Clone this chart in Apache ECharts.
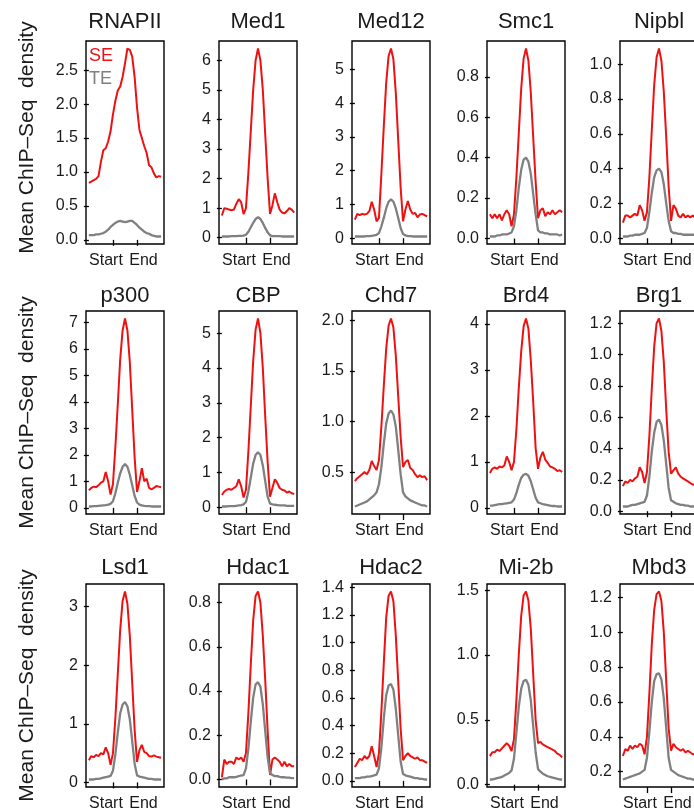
<!DOCTYPE html>
<html><head><meta charset="utf-8">
<script src="https://cdn.jsdelivr.net/npm/echarts@6/dist/echarts.min.js"></script>
<style>html,body{margin:0;padding:0;background:#fff;}#c{width:694px;height:811px;}</style>
</head><body><div id="c"></div>
<script>
// ---- data (31 bins: upstream flank, enhancer body Start..End, downstream flank) ----
const RNAPII_SE = [0.84,0.86,0.88,0.9,0.94,1.15,1.32,1.35,1.45,1.6,1.85,2.05,2.2,2.26,2.4,2.6,2.82,2.8,2.7,2.4,1.95,1.62,1.5,1.38,1.28,1.1,1.07,0.98,0.92,0.94,0.93];
const RNAPII_TE = [0.07,0.07,0.07,0.08,0.08,0.09,0.1,0.12,0.15,0.19,0.22,0.25,0.27,0.28,0.27,0.26,0.27,0.28,0.28,0.25,0.22,0.18,0.15,0.12,0.1,0.09,0.07,0.06,0.05,0.05,0.05];
const RNAPII_TICKS = [0,0.5,1,1.5,2,2.5];

const Med1_SE = [0.75,1.0,0.98,0.95,0.93,0.95,1.15,1.3,1.2,0.8,1.0,2.2,3.6,5.0,6.0,6.4,6.0,5.0,3.5,2.0,0.8,1.1,1.5,1.2,0.95,0.85,0.82,0.9,1.0,0.95,0.85];
const Med1_TE = [0.04,0.04,0.04,0.04,0.05,0.05,0.05,0.06,0.06,0.07,0.1,0.2,0.35,0.5,0.63,0.69,0.63,0.5,0.33,0.18,0.08,0.05,0.05,0.05,0.05,0.04,0.04,0.04,0.04,0.04,0.04];
const Med1_TICKS = [0,1,2,3,4,5,6];

const Med12_SE = [0.55,0.72,0.68,0.72,0.7,0.72,0.8,1.08,0.85,0.5,0.6,1.9,3.3,4.6,5.4,5.62,5.3,4.3,2.9,1.5,0.5,0.85,1.1,0.85,0.72,0.75,0.62,0.7,0.72,0.68,0.65];
const Med12_TE = [0.05,0.05,0.05,0.05,0.05,0.06,0.06,0.07,0.08,0.1,0.15,0.35,0.6,0.88,1.08,1.15,1.08,0.88,0.6,0.3,0.12,0.08,0.06,0.06,0.05,0.05,0.05,0.05,0.05,0.05,0.05];
const Med12_TICKS = [0,1,2,3,4,5];

const Smc1_SE = [0.12,0.1,0.12,0.1,0.12,0.09,0.12,0.14,0.12,0.06,0.12,0.3,0.52,0.74,0.89,0.94,0.88,0.72,0.5,0.28,0.1,0.14,0.15,0.11,0.13,0.12,0.14,0.12,0.13,0.14,0.13];
const Smc1_TE = [0.01,0.01,0.01,0.015,0.015,0.02,0.02,0.02,0.025,0.03,0.06,0.14,0.25,0.34,0.39,0.4,0.38,0.32,0.22,0.12,0.04,0.03,0.03,0.025,0.025,0.02,0.02,0.02,0.02,0.015,0.02];
const Smc1_TICKS = [0,0.2,0.4,0.6,0.8];

const Nipbl_SE = [0.09,0.13,0.13,0.12,0.13,0.14,0.13,0.19,0.16,0.1,0.15,0.35,0.62,0.88,1.04,1.09,1.02,0.84,0.58,0.3,0.1,0.19,0.17,0.13,0.12,0.14,0.12,0.13,0.12,0.13,0.12];
const Nipbl_TE = [0.01,0.01,0.01,0.015,0.015,0.02,0.02,0.02,0.025,0.03,0.06,0.15,0.26,0.35,0.39,0.4,0.38,0.31,0.2,0.1,0.04,0.03,0.03,0.025,0.025,0.02,0.02,0.02,0.02,0.02,0.02];
const Nipbl_TICKS = [0,0.2,0.4,0.6,0.8,1.0];

const p300_SE = [0.66,0.75,0.8,0.78,0.85,0.95,1.0,1.35,1.0,0.5,0.9,2.3,3.9,5.6,6.7,7.15,6.7,5.5,3.7,1.9,0.6,1.0,1.5,1.0,1.1,0.75,0.7,0.75,0.82,0.8,0.78];
const p300_TE = [0.05,0.05,0.06,0.06,0.07,0.08,0.09,0.1,0.12,0.15,0.25,0.55,0.95,1.3,1.55,1.65,1.55,1.25,0.85,0.45,0.2,0.12,0.09,0.07,0.06,0.06,0.05,0.05,0.05,0.05,0.05];
const p300_TICKS = [0,1,2,3,4,5,6,7];

const CBP_SE = [0.35,0.45,0.5,0.52,0.5,0.55,0.6,0.8,0.6,0.28,0.5,1.6,2.9,4.2,5.1,5.42,5.0,4.0,2.6,1.3,0.3,0.55,0.8,0.7,0.55,0.5,0.48,0.42,0.45,0.4,0.38];
const CBP_TE = [0.02,0.02,0.02,0.03,0.03,0.03,0.04,0.05,0.06,0.08,0.15,0.45,0.85,1.25,1.5,1.58,1.5,1.2,0.75,0.3,0.1,0.08,0.07,0.06,0.05,0.05,0.05,0.04,0.04,0.04,0.04];
const CBP_TICKS = [0,1,2,3,4,5];

const Chd7_SE = [0.41,0.44,0.46,0.48,0.5,0.48,0.52,0.61,0.56,0.52,0.62,0.95,1.35,1.72,1.95,2.02,1.93,1.65,1.25,0.85,0.55,0.6,0.62,0.54,0.52,0.48,0.45,0.47,0.45,0.46,0.42];
const Chd7_TE = [0.16,0.17,0.18,0.19,0.2,0.21,0.23,0.25,0.27,0.3,0.38,0.55,0.78,0.98,1.08,1.11,1.07,0.95,0.72,0.48,0.3,0.26,0.24,0.22,0.21,0.2,0.19,0.18,0.17,0.17,0.16];
const Chd7_TICKS = [0.5,1.0,1.5,2.0];

const Brd4_SE = [0.76,0.85,0.88,0.85,0.9,0.88,0.92,1.12,1.0,0.82,1.0,1.7,2.6,3.4,3.95,4.12,3.9,3.2,2.3,1.3,0.85,1.1,1.22,1.05,0.98,0.9,0.88,0.85,0.8,0.82,0.78];
const Brd4_TE = [0.05,0.05,0.06,0.07,0.08,0.08,0.09,0.1,0.11,0.12,0.18,0.32,0.5,0.65,0.72,0.74,0.7,0.58,0.4,0.22,0.12,0.1,0.08,0.07,0.06,0.05,0.04,0.04,0.03,0.03,0.03];
const Brd4_TICKS = [0,1,2,3,4];

const Brg1_SE = [0.16,0.19,0.18,0.2,0.19,0.21,0.22,0.28,0.25,0.18,0.25,0.48,0.78,1.05,1.2,1.23,1.15,0.95,0.65,0.38,0.24,0.26,0.28,0.24,0.22,0.21,0.2,0.19,0.18,0.17,0.17];
const Brg1_TE = [0.03,0.03,0.03,0.035,0.04,0.04,0.045,0.05,0.055,0.06,0.1,0.22,0.38,0.5,0.57,0.585,0.55,0.45,0.3,0.15,0.07,0.06,0.05,0.045,0.04,0.04,0.035,0.035,0.03,0.03,0.03];
const Brg1_TICKS = [0,0.2,0.4,0.6,0.8,1.0,1.2];

const Lsd1_SE = [0.38,0.45,0.43,0.47,0.45,0.5,0.48,0.6,0.5,0.3,0.5,1.1,1.85,2.6,3.1,3.26,3.05,2.5,1.7,0.9,0.35,0.55,0.64,0.52,0.5,0.45,0.44,0.46,0.44,0.43,0.42];
const Lsd1_TE = [0.05,0.05,0.05,0.06,0.06,0.07,0.08,0.09,0.1,0.11,0.2,0.48,0.85,1.18,1.33,1.37,1.3,1.08,0.7,0.32,0.12,0.1,0.09,0.08,0.07,0.06,0.06,0.05,0.05,0.05,0.05];
const Lsd1_TICKS = [0,1,2,3];

const Hdac1_SE = [0.01,0.09,0.07,0.08,0.08,0.07,0.1,0.09,0.1,0.08,0.12,0.3,0.52,0.72,0.83,0.85,0.8,0.65,0.45,0.22,0.02,0.09,0.1,0.09,0.08,0.06,0.08,0.06,0.07,0.06,0.06];
const Hdac1_TE = [0.0,0.005,0.005,0.01,0.01,0.01,0.012,0.015,0.018,0.02,0.05,0.14,0.26,0.37,0.43,0.44,0.42,0.34,0.22,0.1,0.03,0.02,0.015,0.015,0.012,0.01,0.01,0.008,0.008,0.006,0.006];
const Hdac1_TICKS = [0,0.2,0.4,0.6,0.8];

const Hdac2_SE = [0.1,0.13,0.16,0.15,0.18,0.16,0.18,0.25,0.18,0.1,0.2,0.5,0.85,1.18,1.34,1.37,1.3,1.05,0.72,0.38,0.15,0.18,0.2,0.18,0.17,0.16,0.17,0.15,0.15,0.14,0.13];
const Hdac2_TE = [0.02,0.02,0.02,0.025,0.025,0.03,0.03,0.035,0.04,0.045,0.09,0.24,0.45,0.62,0.69,0.7,0.66,0.52,0.33,0.14,0.05,0.04,0.035,0.03,0.025,0.02,0.02,0.015,0.015,0.01,0.01];
const Hdac2_TICKS = [0,0.2,0.4,0.6,0.8,1.0,1.2,1.4];

const Mi2b_SE = [0.22,0.25,0.25,0.27,0.26,0.28,0.3,0.32,0.3,0.26,0.35,0.65,1.0,1.3,1.46,1.49,1.42,1.2,0.85,0.5,0.32,0.33,0.31,0.3,0.29,0.28,0.27,0.26,0.24,0.23,0.21];
const Mi2b_TE = [0.04,0.04,0.045,0.05,0.055,0.06,0.07,0.08,0.09,0.11,0.2,0.4,0.6,0.74,0.8,0.81,0.77,0.65,0.45,0.25,0.12,0.1,0.085,0.075,0.065,0.06,0.055,0.05,0.045,0.04,0.04];
const Mi2b_TICKS = [0,0.5,1.0,1.5];

const Mbd3_SE = [0.29,0.33,0.32,0.35,0.33,0.35,0.34,0.36,0.35,0.3,0.4,0.65,0.93,1.13,1.22,1.235,1.18,1.0,0.72,0.45,0.32,0.36,0.34,0.33,0.32,0.33,0.31,0.32,0.31,0.3,0.3];
const Mbd3_TE = [0.155,0.16,0.165,0.17,0.175,0.18,0.185,0.19,0.2,0.21,0.28,0.43,0.6,0.72,0.76,0.765,0.73,0.62,0.45,0.28,0.21,0.2,0.19,0.18,0.175,0.17,0.165,0.16,0.16,0.155,0.155];
const Mbd3_TICKS = [0.2,0.4,0.6,0.8,1.0,1.2];

const PANEL_NAMES = ['RNAPII','Med1','Med12','Smc1','Nipbl','p300','CBP','Chd7','Brd4','Brg1','Lsd1','Hdac1','Hdac2','Mi-2b','Mbd3'];
const SE_DATA = [RNAPII_SE,Med1_SE,Med12_SE,Smc1_SE,Nipbl_SE,p300_SE,CBP_SE,Chd7_SE,Brd4_SE,Brg1_SE,Lsd1_SE,Hdac1_SE,Hdac2_SE,Mi2b_SE,Mbd3_SE];
const TE_DATA = [RNAPII_TE,Med1_TE,Med12_TE,Smc1_TE,Nipbl_TE,p300_TE,CBP_TE,Chd7_TE,Brd4_TE,Brg1_TE,Lsd1_TE,Hdac1_TE,Hdac2_TE,Mi2b_TE,Mbd3_TE];
const Y_TICKS = [RNAPII_TICKS,Med1_TICKS,Med12_TICKS,Smc1_TICKS,Nipbl_TICKS,p300_TICKS,CBP_TICKS,Chd7_TICKS,Brd4_TICKS,Brg1_TICKS,Lsd1_TICKS,Hdac1_TICKS,Hdac2_TICKS,Mi2b_TICKS,Mbd3_TICKS];
const X_TICKS = [1, 2];
const X_TICK_LABELS = ['Start', 'End'];
const LEGEND_NAMES = ['SE', 'TE'];
const Y_TITLE = 'Mean ChIP\u2013Seq  density';

// ---- layout / style ----
const FONT = "'Liberation Sans', Arial, Helvetica, sans-serif";
const RED = '#ee1111', GRAY = '#808080', INK = '#1a1a1a';
const COL_LEFT = [86, 219, 352, 487, 620];
const ROW_TOP = [41, 311, 584];
const TITLE_CY = [23, 297, 569];
const W = 78, H = 203;
const X_SPAN = 3;

const grids = [], xAxes = [], yAxes = [], series = [], titles = [];
PANEL_NAMES.forEach((name, k) => {
  const r = Math.floor(k / 5), c = k % 5;
  const left = COL_LEFT[c], top = ROW_TOP[r];
  const se = SE_DATA[k], te = TE_DATA[k], ticks = Y_TICKS[k];
  grids.push({left: left, top: top, width: W, height: H, show: true,
    borderColor: '#000', borderWidth: 1.4, backgroundColor: 'rgba(0,0,0,0)', outerBoundsMode: 'none'});
  const all = se.concat(te);
  const mn = Math.min(...all), mx = Math.max(...all), rg = mx - mn;
  const dec = ticks.some(t => Math.abs(t - Math.round(t)) > 1e-9) ? 1 : 0;
  xAxes.push({
    type: 'value', gridIndex: k, min: -0.04 * X_SPAN, max: X_SPAN * 1.04,
    splitLine: {show: false}, axisLine: {show: false},
    axisTick: {show: true, customValues: X_TICKS, length: 6, lineStyle: {color: '#000', width: 1.3}},
    axisLabel: {
      customValues: X_TICKS, margin: 9, color: INK, fontSize: 16, fontFamily: FONT,
      formatter: v => (Math.abs(v - X_TICKS[0]) < 1e-6 ? '{s|' + X_TICK_LABELS[0] + '}' : '{e|' + X_TICK_LABELS[1] + '}'),
      rich: {
        s: {fontSize: 16, fontFamily: FONT, color: INK, padding: [0, 14, 0, 0]},
        e: {fontSize: 16, fontFamily: FONT, color: INK, padding: [0, 0, 0, 13]}
      }
    }
  });
  const ya = {
    type: 'value', gridIndex: k, min: mn - 0.04 * rg, max: mx + 0.04 * rg,
    splitLine: {show: false}, axisLine: {show: false},
    axisTick: {show: true, customValues: ticks, length: 5, lineStyle: {color: '#000', width: 1.3}},
    axisLabel: {customValues: ticks, margin: 8, color: INK, fontSize: 16, fontFamily: FONT,
      formatter: v => v.toFixed(dec)}
  };
  if (c === 0) {
    ya.name = Y_TITLE; ya.nameLocation = 'middle'; ya.nameRotate = 90; ya.nameGap = 48;
    ya.nameTextStyle = {fontSize: 21, fontFamily: FONT, color: INK, padding: r === 0 ? [0, 0, 0, 10] : [0, 0, 0, 0]};
  }
  yAxes.push(ya);
  titles.push({text: name, left: left + W / 2, top: TITLE_CY[r] - 12, textAlign: 'center', padding: 0,
    textStyle: {fontSize: 22, fontWeight: 'normal', color: INK, fontFamily: FONT}});
  const toXY = arr => arr.map((v, i) => [i * X_SPAN / (arr.length - 1), v]);
  series.push({type: 'line', name: LEGEND_NAMES[0], xAxisIndex: k, yAxisIndex: k, data: toXY(se),
    showSymbol: false, clip: true, silent: true, lineStyle: {color: RED, width: 2}, itemStyle: {color: RED}});
  series.push({type: 'line', name: LEGEND_NAMES[1], xAxisIndex: k, yAxisIndex: k, data: toXY(te),
    showSymbol: false, clip: true, silent: true, lineStyle: {color: GRAY, width: 2.3}, itemStyle: {color: GRAY}});
});

const chart = echarts.init(document.getElementById('c'), null, {renderer: 'canvas'});
chart.setOption({
  animation: false,
  backgroundColor: '#fff',
  title: titles,
  legend: {orient: 'vertical', left: 84, top: 47, icon: 'none', itemWidth: 0, itemHeight: 14, itemGap: 5, padding: 0,
    selectedMode: false,
    textStyle: {fontSize: 18, fontFamily: FONT},
    data: [{name: LEGEND_NAMES[0], textStyle: {color: RED}}, {name: LEGEND_NAMES[1], textStyle: {color: GRAY}}]},
  grid: grids, xAxis: xAxes, yAxis: yAxes, series: series
});
</script>
</body></html>
